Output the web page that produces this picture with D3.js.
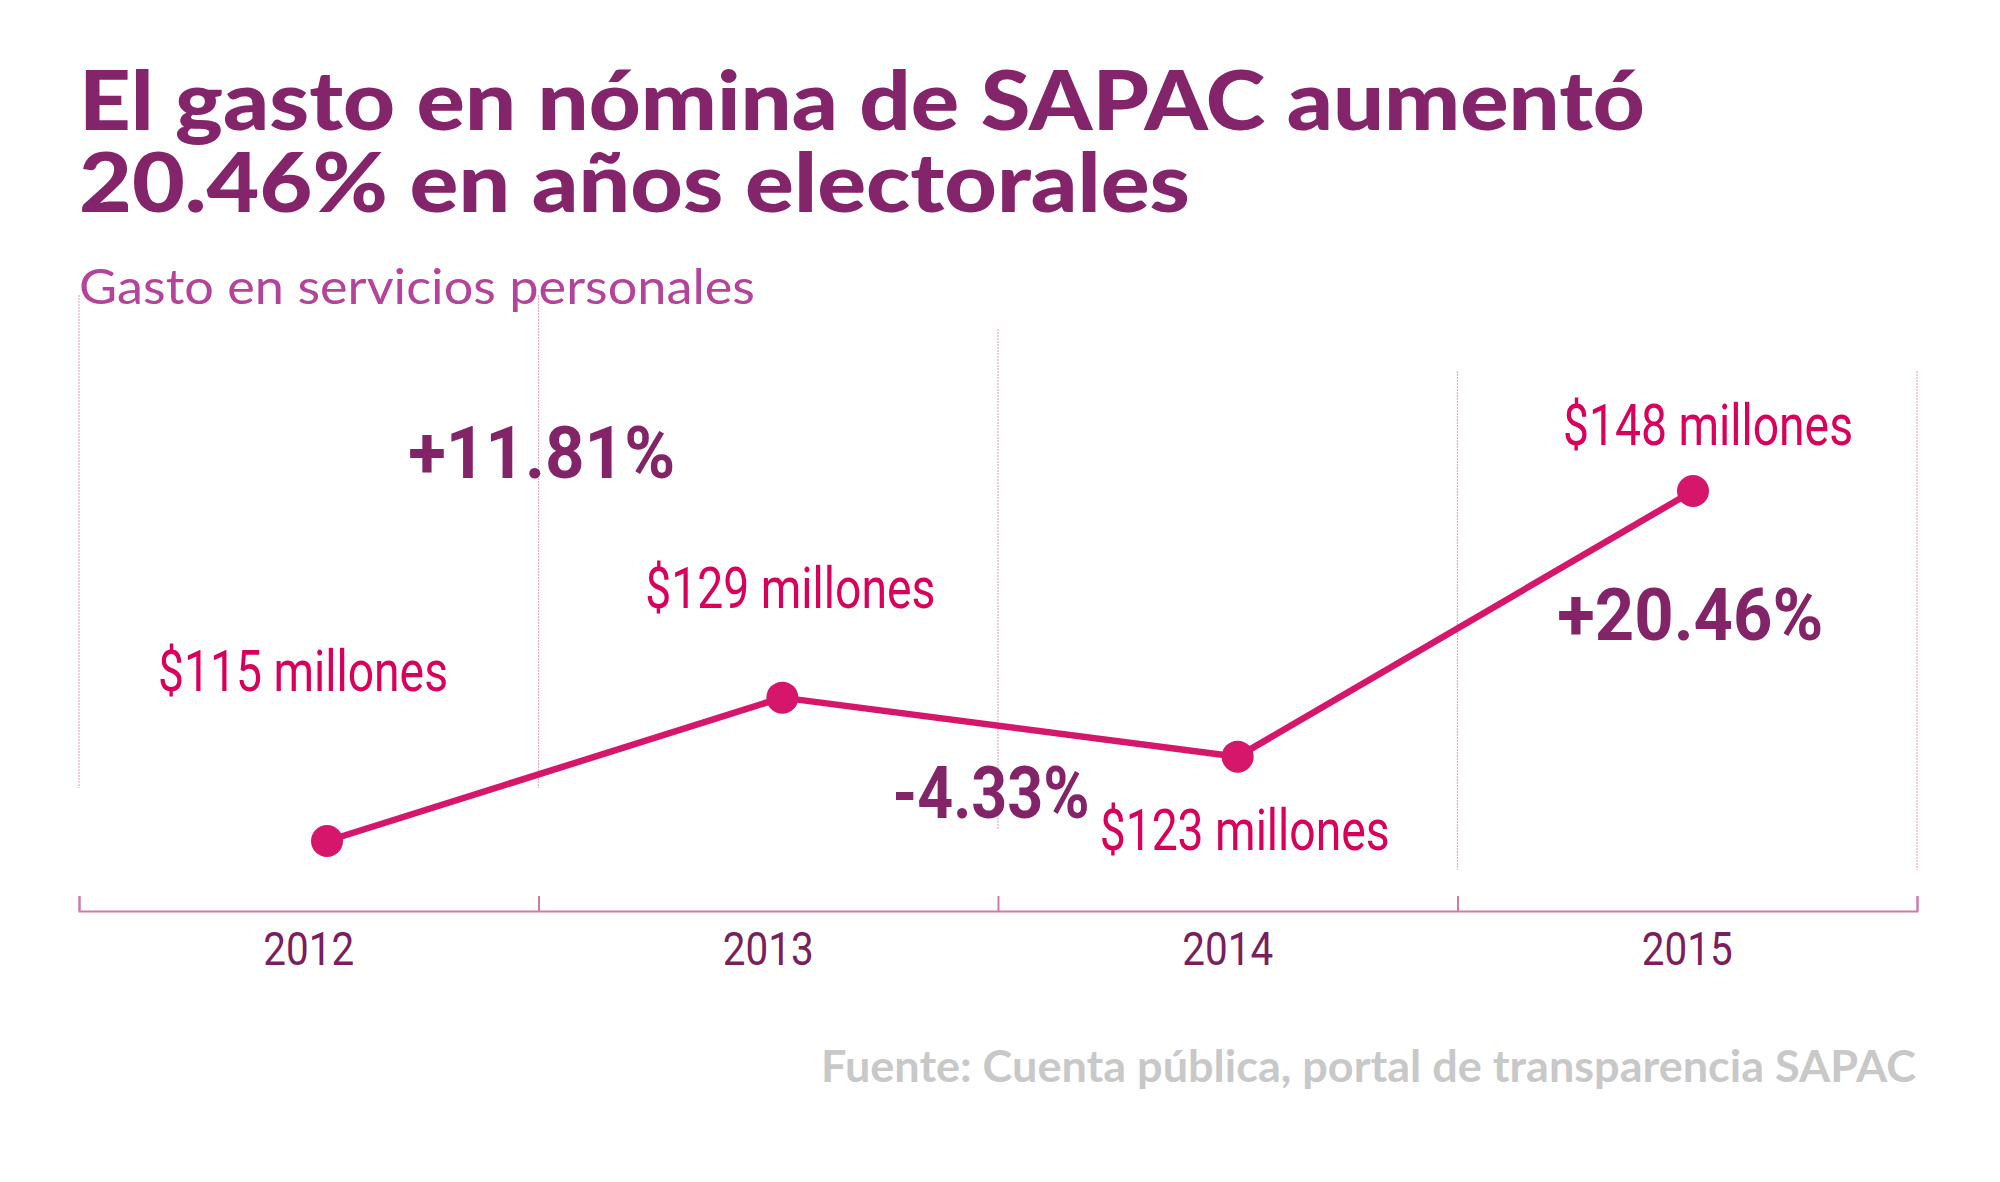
<!DOCTYPE html>
<html>
<head>
<meta charset="utf-8">
<script src="https://cdn.jsdelivr.net/npm/d3@7"></script>
<style>
  html, body { margin: 0; padding: 0; background: #ffffff; }
  svg { display: block; }
</style>
</head>
<body>
<svg id="chart" width="2000" height="1182"></svg>
<script>
// ---- data ----
const years = [2012, 2013, 2014, 2015];
const values = [115.0, 128.6, 123.0, 148.2];           // millones de pesos
const valueLabels = ["$115 millones", "$129 millones", "$123 millones", "$148 millones"];
const changeLabels = ["+11.81%", "-4.33%", "+20.46%"];
const yearLabels = ["2012", "2013", "2014", "2015"];

// ---- layout (not data) ----
const W = 2000, H = 1182;
const left = 79, right = 1917, axisY = 911;
const valueOffsets = [[-24, -150], [8, -90], [7, 93], [15, -46]];   // [dx, dy] from point
const changeOffsets = [[-13, -291], [-19, 91], [225, 16]];          // from segment midpoint
const gridTop = [295, 295, 329, 371, 371];
const gridBottom = [788, 788, 830, 870, 870];

const C = {
  title: "#84246a", sub: "#b3449a", line: "#d5166a", value: "#d9005c",
  change: "#842468", year: "#7a1f5c", grid: "#eaa9c6", axis: "#cf7aa6", source: "#c8c8c8"
};

const svg = d3.select("#chart");
svg.append("rect").attr("width", W).attr("height", H).attr("fill", "#fff");

// ---- scales ----
const xBand = d3.scaleBand().domain(years).range([left, right]).padding(0);
const xEdge = d3.scaleLinear().domain([0, years.length]).range([left, right]);
const xDot = d3.scaleLinear().domain([2012, 2015]).range([327, 1693]);
const y = d3.scaleLinear().domain([115, 148.2]).range([841, 491]);

// ---- titles ----
function fitText(sel, len) {
  sel.attr("textLength", len).attr("lengthAdjust", "spacingAndGlyphs");
}
svg.append("text").attr("x", left).attr("y", 130)
  .attr("font-family", "Lato").attr("font-weight", 900).attr("font-size", 82)
  .attr("fill", C.title).text("El gasto en nómina de SAPAC aumentó").call(fitText, 1566);
svg.append("text").attr("x", left).attr("y", 212)
  .attr("font-family", "Lato").attr("font-weight", 900).attr("font-size", 82)
  .attr("fill", C.title).text("20.46% en años electorales").call(fitText, 1111);
svg.append("text").attr("x", left).attr("y", 304)
  .attr("font-family", "Lato").attr("font-weight", 400).attr("font-size", 48)
  .attr("fill", C.sub).text("Gasto en servicios personales").call(fitText, 676);

// ---- gridlines at band edges ----
const edges = d3.range(years.length + 1);
svg.append("g").selectAll("line").data(edges).join("line")
  .attr("x1", d => xEdge(d)).attr("x2", d => xEdge(d))
  .attr("y1", (d, i) => gridTop[i]).attr("y2", (d, i) => gridBottom[i])
  .attr("stroke", C.grid).attr("stroke-width", 1.2).attr("stroke-dasharray", "2,1");

// ---- axis line with ticks at band edges ----
const axisEdge = d3.axisBottom(xEdge).tickValues(edges).tickFormat("")
  .tickSizeInner(-15).tickSizeOuter(-15);
const gAxis = svg.append("g").attr("transform", `translate(0,${axisY})`).call(axisEdge);
gAxis.selectAll("path, line").attr("stroke", C.axis).attr("stroke-width", 2);

const axisYears = d3.axisBottom(xBand).tickSize(0).tickFormat((d, i) => yearLabels[i]);
const gYears = svg.append("g").attr("transform", `translate(0,${axisY})`).call(axisYears);
gYears.select(".domain").remove();
gYears.selectAll("text")
  .attr("y", 54).attr("dy", 0)
  .attr("font-family", "Roboto").attr("font-size", 46).attr("fill", C.year)
  .attr("textLength", 91).attr("lengthAdjust", "spacingAndGlyphs");

// ---- line + points ----
const pts = years.map((yr, i) => ({ yr, v: values[i], i }));
const line = d3.line().x(d => xDot(d.yr)).y(d => y(d.v));
svg.append("path").datum(pts).attr("d", line)
  .attr("fill", "none").attr("stroke", C.line).attr("stroke-width", 6.5)
  .attr("stroke-linejoin", "round");
svg.append("g").selectAll("circle").data(pts).join("circle")
  .attr("cx", d => xDot(d.yr)).attr("cy", d => y(d.v)).attr("r", 16)
  .attr("fill", C.line);

// ---- value labels ----
svg.append("g").selectAll("text").data(pts).join("text")
  .attr("x", d => xDot(d.yr) + valueOffsets[d.i][0])
  .attr("y", d => y(d.v) + valueOffsets[d.i][1])
  .attr("text-anchor", "middle")
  .attr("font-family", "Roboto").attr("font-size", 57).attr("fill", C.value)
  .attr("textLength", 290).attr("lengthAdjust", "spacingAndGlyphs")
  .text(d => valueLabels[d.i]);

// ---- change labels (anchored to segment midpoints) ----
const segs = changeLabels.map((lab, i) => ({
  lab, i,
  mx: (xDot(years[i]) + xDot(years[i + 1])) / 2,
  my: (y(values[i]) + y(values[i + 1])) / 2
}));
const changeLens = [267, 197, 266];
svg.append("g").selectAll("text").data(segs).join("text")
  .attr("x", d => d.mx + changeOffsets[d.i][0])
  .attr("y", d => d.my + changeOffsets[d.i][1])
  .attr("text-anchor", "middle")
  .attr("font-family", "Roboto").attr("font-weight", 700).attr("font-size", 72)
  .attr("fill", C.change)
  .attr("textLength", d => changeLens[d.i]).attr("lengthAdjust", "spacingAndGlyphs")
  .text(d => d.lab);

// ---- source ----
svg.append("text").attr("x", 1916).attr("y", 1082).attr("text-anchor", "end")
  .attr("font-family", "Lato").attr("font-weight", 700).attr("font-size", 44)
  .attr("fill", C.source).text("Fuente: Cuenta pública, portal de transparencia SAPAC")
  .call(fitText, 1095);
</script>
</body>
</html>
